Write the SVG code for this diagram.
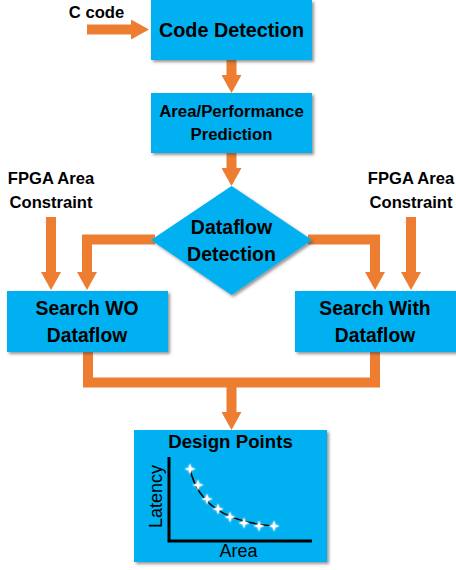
<svg xmlns="http://www.w3.org/2000/svg" xmlns:xlink="http://www.w3.org/1999/xlink" width="456" height="570" viewBox="0 0 456 570">
<style>
.box{fill:#00B0F0;filter:url(#sh);}
.t{font-family:"Liberation Sans",Arial,sans-serif;font-weight:bold;fill:#000;text-anchor:middle;}
.lbl{font-family:"Liberation Sans",Arial,sans-serif;font-weight:bold;fill:#000;text-anchor:middle;font-size:16.6px;}
.ax{font-family:"Liberation Sans",Arial,sans-serif;fill:#000;text-anchor:middle;font-size:18px;}
.c{fill:none;stroke:#ED7D31;stroke-width:10;stroke-linejoin:miter;}
</style>
<defs>
<filter id="sh" x="-10%" y="-10%" width="125%" height="125%">
<feDropShadow dx="2" dy="2" stdDeviation="1.5" flood-color="#404040" flood-opacity="0.55"/>
</filter>
<filter id="glow" x="-50%" y="-50%" width="200%" height="200%">
<feDropShadow dx="0" dy="0" stdDeviation="1.2" flood-color="#ffffff" flood-opacity="1"/>
</filter>
<marker id="ah" markerUnits="userSpaceOnUse" markerWidth="18" markerHeight="20" refX="0" refY="10" orient="auto" viewBox="0 0 18 20">
<path d="M0,0 L18,10 L0,20 Z" fill="#ED7D31"/>
</marker>
<path id="star" d="M0,-5.5 L1.3,-1.3 L5.5,0 L1.3,1.3 L0,5.5 L-1.3,1.3 L-5.5,0 L-1.3,-1.3 Z" fill="#fff"/>
</defs>

<g id="connectors">
<path class="c" d="M87,29.5 H131" marker-end="url(#ah)"/>
<path class="c" d="M231.5,60 V75" marker-end="url(#ah)"/>
<path class="c" d="M231.5,153 V168" marker-end="url(#ah)"/>
<path class="c" d="M155,239.5 H87 V272" marker-end="url(#ah)"/>
<path class="c" d="M308,239.5 H375 V272" marker-end="url(#ah)"/>
<path class="c" d="M51,217 V272" marker-end="url(#ah)"/>
<path class="c" d="M411,217 V272" marker-end="url(#ah)"/>
<path class="c" d="M88,352 V382.5 H375 V352"/>
<path class="c" d="M231.5,382 V412" marker-end="url(#ah)"/>
</g>

<g id="ccode"><text class="lbl" x="96.5" y="18">C code</text></g>

<g id="code-detection">
<rect class="box" x="151" y="0" width="161" height="60"/>
<text class="t" x="231.5" y="37" font-size="19.8">Code Detection</text>
</g>

<g id="prediction">
<rect class="box" x="151" y="93" width="161" height="60"/>
<text class="t" x="231.5" y="117" font-size="16.8">Area/Performance</text>
<text class="t" x="231.5" y="140" font-size="16.8">Prediction</text>
</g>

<g id="dataflow-detection">
<polygon class="box" points="231.5,186 312,240 231.5,295 151,240"/>
<text class="t" x="231.5" y="234" font-size="19.5">Dataflow</text>
<text class="t" x="231.5" y="261" font-size="19.5">Detection</text>
</g>

<g id="fpga-left">
<text class="lbl" x="51" y="184">FPGA Area</text>
<text class="lbl" x="51" y="208">Constraint</text>
</g>
<g id="fpga-right">
<text class="lbl" x="411" y="184">FPGA Area</text>
<text class="lbl" x="411" y="208">Constraint</text>
</g>

<g id="search-wo">
<rect class="box" x="7" y="291" width="161" height="61"/>
<text class="t" x="87" y="315" font-size="19.3">Search WO</text>
<text class="t" x="87" y="342" font-size="19.3">Dataflow</text>
</g>

<g id="search-with">
<rect class="box" x="295" y="291" width="163" height="61"/>
<text class="t" x="375" y="315" font-size="19.3">Search With</text>
<text class="t" x="375" y="342" font-size="19.3">Dataflow</text>
</g>

<g id="design-points">
<rect class="box" x="134" y="430" width="193" height="132"/>
<text class="t" x="230.5" y="448" font-size="18.7">Design Points</text>
<path d="M169,457 V541 H312" fill="none" stroke="#000" stroke-width="3"/>
<text class="ax" transform="translate(162,496.5) rotate(-90)">Latency</text>
<text class="ax" x="238.5" y="557">Area</text>
<path d="M190,469 C197,500 220,522 274,526" fill="none" stroke="#000" stroke-width="1.6"/>
<g filter="url(#glow)">
<use xlink:href="#star" x="190" y="469"/>
<use xlink:href="#star" x="198" y="485"/>
<use xlink:href="#star" x="207" y="499"/>
<use xlink:href="#star" x="218" y="509"/>
<use xlink:href="#star" x="230" y="517"/>
<use xlink:href="#star" x="244" y="523"/>
<use xlink:href="#star" x="259" y="526"/>
<use xlink:href="#star" x="274" y="526"/>
</g>
</g>
</svg>
